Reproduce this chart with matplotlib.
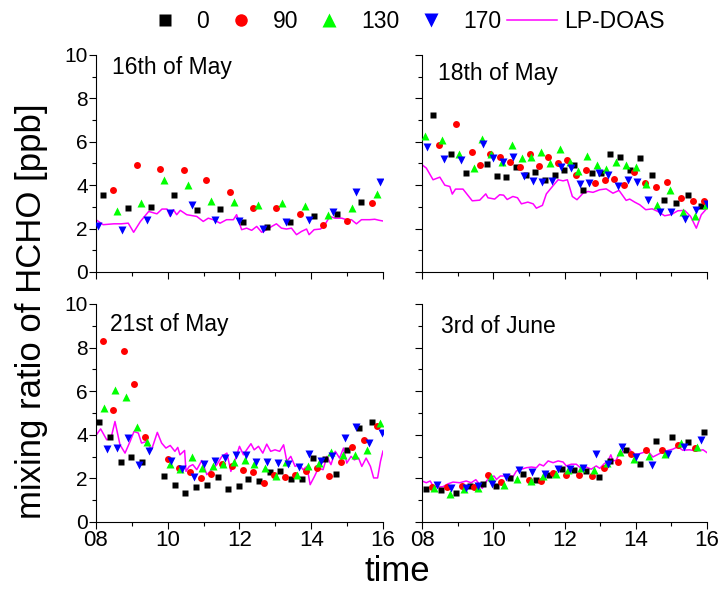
import numpy as np
import matplotlib
matplotlib.use('Agg')
import matplotlib.pyplot as plt
from matplotlib.ticker import MultipleLocator, FixedLocator

plt.rcParams['font.family'] = ['Liberation Sans', 'DejaVu Sans']

# ---- 16th of May ----
t16_0 = [8.20, 8.88, 9.54, 10.18, 10.82, 11.47, 12.11, 12.76, 13.42, 14.07, 14.73, 15.39]
c16_0 = [3.53, 2.96, 2.99, 3.54, 2.85, 2.88, 2.29, 2.09, 2.32, 2.58, 2.68, 3.21]
t16_90 = [8.48, 9.14, 9.79, 10.44, 11.08, 11.74, 12.39, 13.03, 13.68, 14.34, 14.99, 15.69]
c16_90 = [3.80, 4.95, 4.74, 4.69, 4.26, 3.67, 2.93, 2.93, 2.67, 2.16, 2.35, 3.17]
t16_130 = [8.59, 9.26, 9.91, 10.56, 11.21, 11.86, 12.53, 13.18, 13.83, 14.47, 15.14, 15.83]
c16_130 = [2.79, 3.19, 4.23, 4.02, 3.28, 3.24, 3.07, 3.17, 3.05, 2.61, 2.94, 3.60]
t16_170 = [8.05, 8.73, 9.41, 10.05, 10.69, 11.33, 12.00, 12.65, 13.30, 13.94, 14.60, 15.26, 15.93]
c16_170 = [2.13, 1.92, 2.39, 2.71, 3.10, 2.39, 2.33, 1.96, 2.29, 2.39, 2.78, 3.68, 4.14]
t16_lp = [8.00, 8.20, 8.50, 8.70, 8.90, 9.05, 9.24, 9.47, 9.70, 9.84, 9.98, 10.07, 10.16,
          10.25, 10.35, 10.53, 10.81, 10.99, 11.13, 11.27, 11.46, 11.64, 11.83, 11.92,
          12.06, 12.20, 12.34, 12.48, 12.62, 12.76, 12.90, 13.03, 13.17, 13.31, 13.45,
          13.59, 13.73, 13.87, 13.94, 14.08, 14.26, 14.38, 14.52, 14.66, 14.85, 14.98,
          15.12, 15.26, 15.40, 15.63, 15.77, 15.90, 16.00]
c16_lp = [2.41, 2.18, 2.22, 2.22, 2.25, 1.83, 2.33, 2.79, 2.68, 2.90, 2.90, 2.56, 2.87,
          2.64, 2.84, 2.64, 2.56, 2.33, 2.48, 2.41, 2.25, 2.41, 2.41, 2.64,
          1.95, 2.02, 1.92, 2.10, 1.83, 1.95, 2.10, 2.22, 2.02, 1.98, 2.02,
          1.72, 1.87, 1.98, 1.72, 1.95, 1.98, 2.18, 2.56, 2.48, 2.48, 2.41,
          2.41, 2.22, 2.41, 2.41, 2.43, 2.38, 2.35]

# ---- 18th of May ----
t18_0 = [8.31, 8.80, 9.24, 9.82, 10.10, 10.37, 10.65, 10.93, 11.18, 11.45, 11.72, 11.98, 12.26,
         12.51, 12.77, 13.03, 13.29, 13.57, 13.83, 14.13, 14.45, 14.78, 15.13, 15.48, 15.82]
c18_0 = [7.22, 5.44, 4.54, 4.97, 4.42, 4.36, 4.86, 4.49, 4.59, 4.25, 4.46, 4.68, 4.91,
         3.79, 4.56, 4.54, 5.43, 5.28, 4.69, 5.23, 4.48, 3.33, 3.17, 3.54, 3.02]
t18_90 = [8.48, 8.95, 9.39, 9.62, 9.90, 10.20, 10.47, 10.74, 11.02, 11.28, 11.55, 11.82, 12.07,
          12.33, 12.60, 12.86, 13.14, 13.40, 13.66, 13.94, 14.26, 14.56, 14.89, 15.26, 15.61, 15.91]
c18_90 = [5.86, 6.83, 5.52, 4.94, 5.43, 5.32, 5.05, 4.83, 5.46, 4.89, 5.32, 5.02, 5.18,
          4.48, 4.71, 4.09, 4.26, 4.28, 4.02, 4.62, 4.08, 3.90, 4.17, 3.39, 3.28, 3.25]
t18_130 = [8.07, 8.55, 9.04, 9.46, 9.68, 9.95, 10.24, 10.52, 10.80, 11.07, 11.33, 11.60, 11.87,
           12.14, 12.39, 12.64, 12.91, 13.17, 13.45, 13.73, 14.00, 14.30, 14.61, 14.96, 15.33,
           15.66, 15.96]
c18_130 = [6.27, 6.06, 5.43, 4.80, 6.14, 5.43, 5.06, 5.84, 5.23, 5.29, 5.51, 5.00, 5.67,
           5.06, 4.66, 5.35, 4.95, 4.74, 5.08, 4.95, 4.82, 4.06, 3.11, 3.79, 2.76,
           2.59, 3.10]
t18_170 = [8.15, 8.63, 9.09, 9.72, 9.99, 10.26, 10.56, 10.85, 11.11, 11.38, 11.65, 11.91, 12.18,
           12.43, 12.69, 12.96, 13.23, 13.50, 13.78, 14.04, 14.34, 14.68, 15.00, 15.38, 15.70, 15.99]
c18_170 = [5.75, 5.20, 5.17, 5.90, 5.23, 5.08, 5.31, 4.43, 4.20, 4.14, 4.20, 4.85, 4.79,
           4.06, 4.10, 4.56, 4.49, 3.96, 4.23, 4.17, 3.30, 2.76, 2.75, 2.45, 2.85, 3.14]
t18_lp = [8.00, 8.12, 8.31, 8.50, 8.64, 8.78, 8.85, 8.94, 9.15, 9.41, 9.62, 9.79, 9.85,
          10.04, 10.18, 10.29, 10.39, 10.55, 10.68, 10.79, 10.97, 11.12, 11.21, 11.38, 11.49,
          11.66, 11.82, 11.96, 12.08, 12.22, 12.35, 12.52, 12.66, 12.80, 12.99, 13.17, 13.36,
          13.53, 13.73, 13.83, 13.97, 14.11, 14.28, 14.46, 14.62, 14.81, 15.00, 15.18, 15.37,
          15.54, 15.70, 15.84, 15.98]
c18_lp = [4.94, 4.79, 4.25, 4.37, 4.00, 3.94, 3.59, 3.82, 3.82, 3.28, 3.31, 3.60, 3.42,
          3.36, 3.56, 3.54, 3.34, 3.48, 3.42, 3.14, 3.22, 3.14, 2.94, 3.07, 3.60,
          3.94, 4.25, 4.20, 4.25, 3.48, 3.33, 3.63, 3.71, 3.67, 3.79, 3.83, 3.63,
          3.76, 3.30, 3.36, 3.22, 3.10, 2.87, 2.91, 2.79, 2.59, 2.65, 2.82, 2.84,
          2.56, 2.02, 2.64, 2.90]

# ---- 21st of May ----
t21_0 = [8.08, 8.39, 8.69, 8.98, 9.28, 9.89, 10.19, 10.49, 10.79, 11.09, 11.39, 11.67, 11.98,
         12.25, 12.55, 12.86, 13.13, 13.43, 13.73, 14.05, 14.37, 14.69, 15.00, 15.34, 15.70]
c21_0 = [4.60, 3.91, 2.76, 2.99, 2.76, 2.11, 1.69, 1.34, 1.59, 1.71, 2.05, 1.51, 1.66,
         1.97, 1.89, 2.31, 2.32, 1.97, 1.98, 2.92, 2.87, 2.21, 3.30, 4.32, 4.58]
t21_90 = [8.19, 8.48, 8.78, 9.07, 9.36, 10.01, 10.32, 10.61, 10.92, 11.22, 11.51, 11.80, 12.09,
          12.38, 12.67, 12.95, 13.27, 13.55, 13.86, 14.17, 14.49, 14.82, 15.13, 15.48, 15.83]
c21_90 = [8.32, 5.15, 7.86, 6.31, 3.92, 2.90, 2.49, 2.31, 2.02, 2.20, 2.67, 2.56, 2.38,
          2.29, 1.77, 2.17, 2.05, 2.17, 2.35, 2.46, 2.09, 2.76, 3.45, 3.74, 4.40]
t21_130 = [8.22, 8.54, 8.84, 9.13, 9.42, 10.07, 10.35, 10.68, 10.96, 11.25, 11.55, 11.85, 12.15,
           12.41, 12.72, 13.01, 13.30, 13.61, 13.91, 14.23, 14.55, 14.89, 15.21, 15.55, 15.91]
c21_130 = [5.22, 6.05, 5.71, 4.35, 3.69, 2.67, 2.41, 2.96, 2.47, 2.55, 2.66, 2.73, 2.85,
           2.66, 2.49, 2.09, 2.76, 2.17, 2.55, 2.70, 3.19, 3.05, 3.08, 3.28, 4.55]
t21_170 = [8.30, 8.60, 8.90, 9.19, 9.48, 10.10, 10.41, 10.72, 11.02, 11.31, 11.59, 11.90, 12.18,
           12.47, 12.76, 13.06, 13.35, 13.65, 13.95, 14.26, 14.57, 14.93, 15.26, 15.61, 15.97]
c21_170 = [3.37, 3.40, 3.83, 2.63, 3.27, 2.81, 2.41, 2.08, 2.66, 2.79, 2.93, 3.05, 3.07,
           2.73, 2.76, 2.70, 2.67, 2.50, 3.11, 2.78, 3.01, 3.86, 4.34, 3.62, 4.06]
t21_lp = [8.00, 8.13, 8.30, 8.42, 8.53, 8.67, 8.81, 8.95, 9.06, 9.18, 9.27, 9.41, 9.55,
          9.71, 9.83, 9.95, 10.07, 10.20, 10.28, 10.34, 10.47, 10.51, 10.60, 10.70, 10.81,
          10.95, 11.09, 11.23, 11.37, 11.51, 11.65, 11.76, 11.88, 12.00, 12.11, 12.20, 12.32,
          12.41, 12.53, 12.65, 12.76, 12.87, 12.99, 13.12, 13.23, 13.32, 13.43, 13.55, 13.67,
          13.77, 13.88, 13.97, 14.09, 14.20, 14.33, 14.44, 14.55, 14.67, 14.79, 14.90, 14.99,
          15.11, 15.20, 15.32, 15.41, 15.53, 15.65, 15.74, 15.85, 15.93, 16.00]
c21_lp = [3.97, 4.27, 3.77, 3.85, 4.61, 3.54, 3.16, 3.69, 4.15, 4.08, 3.62, 3.69, 3.31,
          4.11, 3.62, 3.39, 3.51, 3.24, 3.42, 3.08, 3.28, 2.32, 2.55, 2.63, 2.40,
          2.82, 2.17, 2.40, 2.63, 3.01, 3.16, 2.32, 2.85, 3.47, 3.08, 3.31, 3.59,
          3.31, 3.47, 3.16, 3.57, 3.24, 3.31, 3.24, 3.54, 2.78, 3.01, 2.55, 2.63,
          2.40, 2.55, 1.71, 2.09, 2.47, 2.40, 3.01, 2.63, 3.24, 2.93, 3.39, 2.70,
          3.01, 2.85, 2.93, 2.55, 2.93, 2.55, 2.02, 2.02, 2.78, 3.25]

# ---- 3rd of June ----
t03_0 = [8.11, 8.53, 8.94, 9.34, 9.71, 10.09, 10.46, 10.84, 11.21, 11.57, 11.92, 12.26, 12.61,
         12.96, 13.29, 13.73, 14.13, 14.57, 15.02, 15.48, 15.92]
c03_0 = [1.50, 1.45, 1.34, 1.66, 1.76, 1.63, 2.02, 2.20, 1.91, 2.17, 2.43, 2.37, 2.35,
         2.06, 2.81, 3.28, 2.66, 3.73, 3.92, 3.69, 4.14]
t03_90 = [8.28, 8.70, 9.12, 9.46, 9.86, 10.23, 11.00, 11.33, 11.69, 12.05, 12.42, 12.76, 13.12,
          13.49, 13.88, 14.30, 14.74, 15.19, 15.66]
c03_90 = [1.60, 1.62, 1.66, 1.62, 2.17, 1.82, 1.91, 1.89, 2.26, 2.17, 2.15, 2.09, 2.49,
          2.75, 3.11, 3.28, 3.32, 3.55, 3.41]
t03_130 = [8.33, 8.78, 9.19, 9.57, 9.94, 10.29, 10.67, 11.05, 11.40, 11.75, 12.10, 12.47, 12.83,
           13.19, 13.55, 13.95, 14.37, 14.83, 15.28, 15.73]
c03_130 = [1.58, 1.28, 1.50, 1.58, 2.04, 1.71, 1.97, 1.89, 2.11, 2.18, 2.37, 2.48, 2.40,
           2.72, 3.21, 2.88, 3.02, 3.11, 3.61, 3.42]
t03_170 = [8.42, 8.82, 9.23, 9.58, 9.97, 10.35, 10.72, 11.10, 11.46, 11.81, 12.15, 12.51, 12.87,
           13.23, 13.60, 14.00, 14.45, 14.90, 15.35, 15.83]
c03_170 = [1.71, 1.54, 1.55, 1.65, 1.74, 2.08, 2.38, 2.31, 2.20, 2.42, 2.45, 2.48, 3.14,
           2.68, 3.43, 2.98, 2.63, 3.11, 3.46, 3.75]
t03_lp = [8.00, 8.12, 8.23, 8.31, 8.45, 8.59, 8.73, 8.87, 9.06, 9.24, 9.38, 9.51, 9.62,
          9.69, 9.81, 9.90, 10.02, 10.09, 10.20, 10.32, 10.44, 10.55, 10.65, 10.79, 10.93,
          11.07, 11.21, 11.30, 11.41, 11.54, 11.68, 11.82, 11.96, 12.05, 12.19, 12.33, 12.47,
          12.61, 12.75, 12.89, 12.99, 13.10, 13.22, 13.30, 13.36, 13.45, 13.55, 13.69, 13.83,
          13.92, 14.06, 14.20, 14.34, 14.48, 14.67, 14.86, 15.04, 15.18, 15.32, 15.51, 15.70,
          15.89, 16.00]
c03_lp = [1.88, 1.80, 1.88, 1.65, 1.60, 1.62, 1.75, 1.83, 1.80, 1.88, 1.80, 1.94, 1.72,
          1.54, 1.88, 2.03, 2.11, 1.95, 2.11, 2.11, 2.18, 2.06, 2.34, 2.42, 2.49,
          2.52, 2.49, 2.65, 2.57, 2.80, 2.72, 2.80, 2.75, 2.57, 2.65, 2.65, 2.45,
          2.52, 2.42, 2.57, 2.46, 2.65, 2.80, 3.08, 2.80, 2.83, 3.18, 3.23, 3.34,
          3.11, 3.11, 3.18, 3.26, 2.98, 3.14, 3.26, 3.34, 3.45, 3.29, 3.31, 3.26,
          3.31, 3.18]

days = [
    ('16th of May', t16_0, c16_0, t16_90, c16_90, t16_130, c16_130, t16_170, c16_170, t16_lp, c16_lp),
    ('18th of May', t18_0, c18_0, t18_90, c18_90, t18_130, c18_130, t18_170, c18_170, t18_lp, c18_lp),
    ('21st of May', t21_0, c21_0, t21_90, c21_90, t21_130, c21_130, t21_170, c21_170, t21_lp, c21_lp),
    ('3rd of June', t03_0, c03_0, t03_90, c03_90, t03_130, c03_130, t03_170, c03_170, t03_lp, c03_lp),
]

rects = [[0.1320, 0.5390, 0.3948, 0.3678],
         [0.5805, 0.5390, 0.3920, 0.3678],
         [0.1320, 0.1153, 0.3948, 0.3695],
         [0.5805, 0.1153, 0.3920, 0.3695]]
label_pos = [(0.056, 0.912), (0.056, 0.885), (0.049, 0.876), (0.067, 0.867)]

fig = plt.figure(figsize=(7.27, 5.90), dpi=100)

for i, (name, ta, ca, tb, cb, tc, cc, td, cd, tl, cl) in enumerate(days):
    ax = fig.add_axes(rects[i])
    ax.plot(tl, cl, '-', color='#ff00ff', lw=1.1, label='LP-DOAS', zorder=2)
    ax.plot(ta, ca, 's', color='black', ms=4.4, mec='none', label='0', zorder=3)
    ax.plot(tb, cb, 'o', color='#ff0000', ms=5.0, mec='none', label='90', zorder=3)
    ax.plot(tc, cc, '^', color='#00ff00', ms=5.6, mec='none', label='130', zorder=3)
    ax.plot(td, cd, 'v', color='#0000ff', ms=5.6, mec='none', label='170', zorder=3)

    ax.set_xlim(8, 16)
    ax.set_ylim(0, 10)
    for s in ['top', 'right']:
        ax.spines[s].set_visible(False)
    for s in ['left', 'bottom']:
        ax.spines[s].set_linewidth(0.8)
    ax.xaxis.set_major_locator(FixedLocator([8, 10, 12, 14, 16]))
    ax.xaxis.set_minor_locator(MultipleLocator(1))
    ax.yaxis.set_major_locator(MultipleLocator(2))
    ax.yaxis.set_minor_locator(MultipleLocator(1))
    ax.tick_params(which='major', direction='out', length=5, width=0.8)
    ax.tick_params(which='minor', direction='out', length=3, width=0.8)
    ax.tick_params(axis='y', labelsize=15, pad=1)
    ax.tick_params(axis='x', labelsize=16, pad=1)
    ax.set_xticklabels(['08', '10', '12', '14', '16'])
    if i < 2:
        ax.tick_params(axis='x', labelbottom=False)
    if i % 2 == 1:
        ax.tick_params(axis='y', labelleft=False)
    ax.text(label_pos[i][0], label_pos[i][1], name, transform=ax.transAxes,
            fontsize=16.5, va='baseline', ha='left')
    if i == 0:
        h, l = ax.get_legend_handles_labels()

order = [1, 2, 3, 4, 0]
fig.legend([h[k] for k in order], [l[k] for k in order], loc='center',
           bbox_to_anchor=(402 / 727, 0.963), ncol=5, frameon=False,
           fontsize=16.5, markerscale=1.8, handlelength=2.2, handletextpad=0.3,
           columnspacing=0.26, borderpad=0)

fig.text(0.044, 0.473, 'mixing ratio of HCHO [ppb]', rotation=90,
         ha='center', va='center', fontsize=25)
fig.text(0.546, 0.031, 'time', ha='center', va='center', fontsize=25)

fig.savefig('out.png', dpi=100)
